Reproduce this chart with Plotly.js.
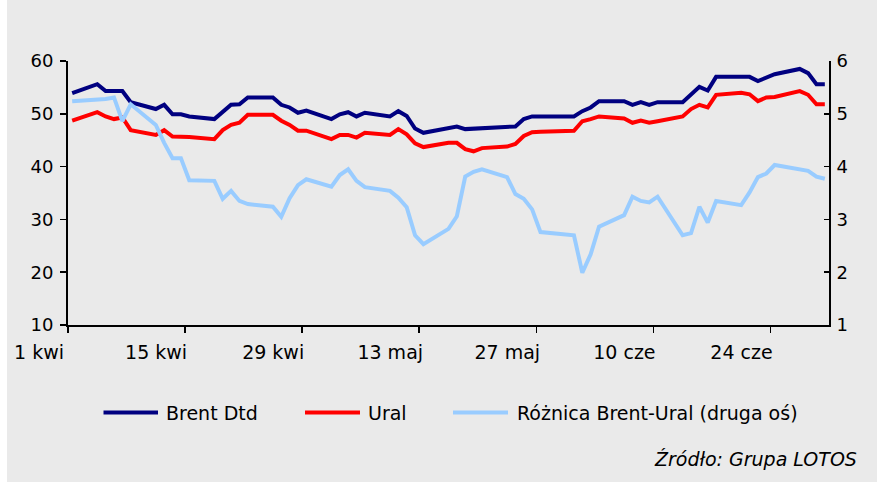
<!DOCTYPE html>
<html>
<head>
<meta charset="utf-8">
<script src="https://cdn.plot.ly/plotly-3.0.1.min.js"></script>
<style>
html,body{margin:0;padding:0;background:#EAEAEA;}
#chart{width:877px;height:482px;}
</style>
</head>
<body>
<div id="chart"></div>
<script>
const dates = [
 '2005-04-01','2005-04-04','2005-04-05','2005-04-06','2005-04-07','2005-04-08','2005-04-11','2005-04-12','2005-04-13','2005-04-14','2005-04-15',
 '2005-04-18','2005-04-19','2005-04-20','2005-04-21','2005-04-22','2005-04-25','2005-04-26','2005-04-27','2005-04-28','2005-04-29',
 '2005-05-02','2005-05-03','2005-05-04','2005-05-05','2005-05-06','2005-05-09','2005-05-10','2005-05-11','2005-05-12','2005-05-13',
 '2005-05-16','2005-05-17','2005-05-18','2005-05-19','2005-05-20','2005-05-23','2005-05-24','2005-05-25','2005-05-26','2005-05-27','2005-05-31',
 '2005-06-01','2005-06-02','2005-06-03','2005-06-06','2005-06-07','2005-06-08','2005-06-09','2005-06-10','2005-06-13','2005-06-14','2005-06-15',
 '2005-06-16','2005-06-17','2005-06-20','2005-06-21','2005-06-22','2005-06-23','2005-06-24','2005-06-27','2005-06-28','2005-06-29','2005-06-30'
];
const brent = [
 53.9,55.6,54.3,54.3,54.3,52.2,50.9,51.7,49.9,49.9,49.5,
 49.0,50.4,51.7,51.8,53.1,53.1,51.7,51.2,50.2,50.6,
 49.0,49.9,50.3,49.5,50.2,49.5,50.5,49.6,47.2,46.4,
 47.2,47.6,47.1,47.2,47.3,47.5,47.6,49.0,49.5,49.5,49.5,
 50.5,51.2,52.4,52.4,51.7,52.2,51.7,52.2,52.2,53.7,55.1,
 54.4,57.0,57.0,57.0,56.2,56.9,57.5,58.5,57.7,55.6,55.6
];
const ural = [
 48.7,50.3,49.5,49.0,49.3,46.9,46.0,46.9,45.7,45.7,45.6,
 45.2,46.9,47.9,48.3,49.8,49.8,48.7,47.9,46.8,46.8,
 45.2,46.0,46.0,45.5,46.4,46.0,47.1,46.1,44.4,43.7,
 44.5,44.5,43.3,42.9,43.5,43.8,44.3,45.8,46.5,46.6,46.8,
 48.6,49.0,49.5,49.1,48.3,48.7,48.3,48.6,49.5,50.9,51.7,
 51.2,53.6,54.0,53.7,52.4,53.1,53.2,54.3,53.6,51.8,51.8
];
const spread = [
 5.24,5.27,5.28,5.31,4.86,5.18,4.79,4.45,4.16,4.16,3.74,
 3.73,3.39,3.54,3.35,3.29,3.24,3.05,3.40,3.65,3.76,
 3.62,3.84,3.95,3.73,3.61,3.54,3.41,3.23,2.70,2.53,
 2.82,3.06,3.81,3.90,3.95,3.80,3.48,3.39,3.19,2.76,2.70,
 1.99,2.34,2.86,3.08,3.43,3.35,3.32,3.43,2.70,2.74,3.24,
 2.94,3.35,3.27,3.51,3.80,3.87,4.03,3.96,3.92,3.81,3.77
];
const seriesNames = ['Brent Dtd','Ural','Różnica Brent-Ural (druga oś)'];
const tickDates = ['2005-04-01','2005-04-15','2005-04-29','2005-05-13','2005-05-27','2005-06-10','2005-06-24'];
const tickLabels = ['1 kwi','15 kwi','29 kwi','13 maj','27 maj','10 cze','24 cze'];
const leftTicks = [10,20,30,40,50,60];
const rightTicks = [1,2,3,4,5,6];
const sourceText = 'Źródło: Grupa LOTOS';

const colors = ['#000080','#FF0000','#99CCFF'];
const FONT = 'DejaVu Sans, Verdana, sans-serif';
const W = 877, H = 482;
const L = 68, R = 829, T = 61, B = 325;
const px = x => (x - L) / (R - L);
const py = y => (B - y) / (B - T);
// category-boundary ticks: half a day before each plotted date
const halfDayBefore = d => {
  const t = new Date(d + 'T00:00:00Z').getTime() - 12 * 3600 * 1000;
  return new Date(t).toISOString().slice(0, 19).replace('T', ' ');
};

const traces = [
  {x: dates, y: brent, name: seriesNames[0], type: 'scatter', mode: 'lines',
   line: {color: colors[0], width: 4}, yaxis: 'y'},
  {x: dates, y: ural, name: seriesNames[1], type: 'scatter', mode: 'lines',
   line: {color: colors[1], width: 4}, yaxis: 'y'},
  {x: dates, y: spread, name: seriesNames[2], type: 'scatter', mode: 'lines',
   line: {color: colors[2], width: 4}, yaxis: 'y2'}
];

const legendY = 412.5;
const legendItems = [
  {x0: 103.5, x1: 158, tx: 164},
  {x0: 305, x1: 360, tx: 366},
  {x0: 453, x1: 508, tx: 514.5}
];
const shapes = legendItems.map((it, i) => ({
  type: 'line', xref: 'paper', yref: 'paper',
  x0: px(it.x0), x1: px(it.x1), y0: py(legendY), y1: py(legendY),
  line: {color: colors[i], width: 4}
}));
// white strip along the left edge of the picture
shapes.push({
  type: 'rect', xref: 'paper', yref: 'paper', layer: 'above',
  x0: px(0), x1: px(7), y0: py(H), y1: py(0),
  fillcolor: '#FFFFFF', line: {width: 0}
});
const annotations = legendItems.map((it, i) => ({
  xref: 'paper', yref: 'paper', x: px(it.tx), y: py(legendY + 0.5),
  xanchor: 'left', yanchor: 'middle', showarrow: false,
  text: seriesNames[i], font: {family: FONT, size: 19, color: '#000'}
}));
annotations.push({
  xref: 'paper', yref: 'paper', x: px(859), y: py(459),
  xanchor: 'right', yanchor: 'middle', showarrow: false,
  text: '<i>' + sourceText + '</i>', font: {family: FONT, size: 19, color: '#000'}
});

const layout = {
  width: W, height: H,
  margin: {l: L, r: W - R, t: T, b: H - B, pad: 0},
  paper_bgcolor: '#EAEAEA', plot_bgcolor: '#EAEAEA',
  showlegend: false,
  font: {family: FONT, size: 18, color: '#000'},
  xaxis: {
    type: 'date',
    range: [halfDayBefore(dates[0]), halfDayBefore('2005-07-01')],
    tickvals: tickDates.map(halfDayBefore), ticktext: tickLabels,
    ticks: 'outside', ticklen: 6, tickwidth: 1.5, tickcolor: '#000',
    ticklabelshift: -29, ticklabelstandoff: 3,
    showline: true, linecolor: '#000', linewidth: 2,
    showgrid: false, zeroline: false,
    tickfont: {family: FONT, size: 19, color: '#000'}
  },
  yaxis: {
    range: [10, 60], tickvals: leftTicks,
    ticks: 'outside', ticklen: 6, tickwidth: 1.5, tickcolor: '#000',
    ticklabelstandoff: 3,
    showline: true, linecolor: '#000', linewidth: 2,
    showgrid: false, zeroline: false,
    tickfont: {family: FONT, size: 18, color: '#000'}
  },
  yaxis2: {
    range: [1, 6], tickvals: rightTicks, overlaying: 'y', side: 'right',
    ticks: 'inside', ticklen: 5, tickwidth: 1.5, tickcolor: '#000',
    ticklabelstandoff: 2,
    showline: true, linecolor: '#000', linewidth: 2,
    showgrid: false, zeroline: false,
    tickfont: {family: FONT, size: 18, color: '#000'}
  },
  shapes: shapes,
  annotations: annotations
};

Plotly.newPlot('chart', traces, layout, {staticPlot: true, displayModeBar: false});
</script>
</body>
</html>
